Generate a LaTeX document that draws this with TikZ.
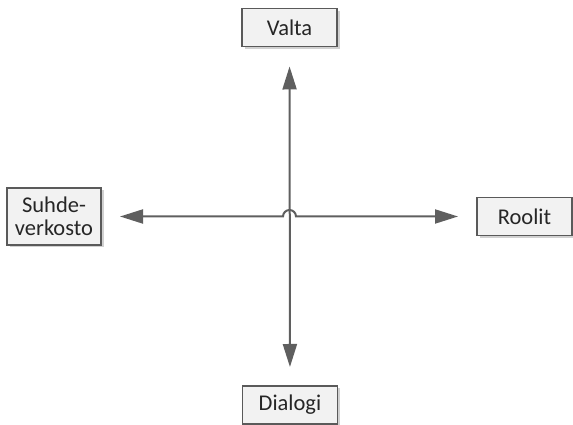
\documentclass[tikz,border=0pt]{standalone}
\usepackage{fontspec}
\setmainfont{Carlito}
\usetikzlibrary{arrows.meta,shadows,calc}
\definecolor{boxline}{HTML}{5A5A5A}
\definecolor{boxfill}{HTML}{F2F2F2}
\definecolor{arrowgray}{HTML}{5F5F5F}
\tikzset{
  labelbox/.style={draw=boxline, line width=1.3pt, fill=boxfill, outer sep=0pt,
    inner sep=1pt, minimum width=95pt, minimum height=38pt, align=center,
    font=\fontsize{22.5pt}{23.5pt}\selectfont, text=black!85,
    drop shadow={shadow xshift=2.5pt, shadow yshift=-2.5pt, fill=black, opacity=0.18}},
  axisline/.style={draw=arrowgray, line width=2pt},
}
\begin{document}
\begin{tikzpicture}[x=1pt,y=1pt]
  \useasboundingbox (0,0) rectangle (573,425);

  % four labelled boxes
  \node[labelbox] (valta)   at (289.5,397.5) {Valta};
  \node[labelbox, minimum width=94pt, minimum height=57pt] (suhde) at (54,208.5) {Suhde-\\verkosto};
  \node[labelbox] (roolit)  at (524.5,208.5) {Roolit};
  \node[labelbox] (dialogi) at (290,20) {Dialogi};

  \coordinate (cross) at (289.5,208.5);

  % vertical axis
  \draw[axisline, {Triangle[length=23pt,width=14pt]}-{Triangle[length=23pt,width=14pt]},
        shorten <=20pt, shorten >=19pt] (valta) -- (dialogi);

  % horizontal axis, hopping over the vertical one
  \draw[axisline, {Triangle[length=23pt,width=14pt]}-{Triangle[length=23pt,width=14pt]},
        shorten <=19pt, shorten >=19pt]
    (suhde) -- ($(cross)+(-6.5,0)$) arc[start angle=180, end angle=0, radius=6.5] -- (roolit);
\end{tikzpicture}
\end{document}
